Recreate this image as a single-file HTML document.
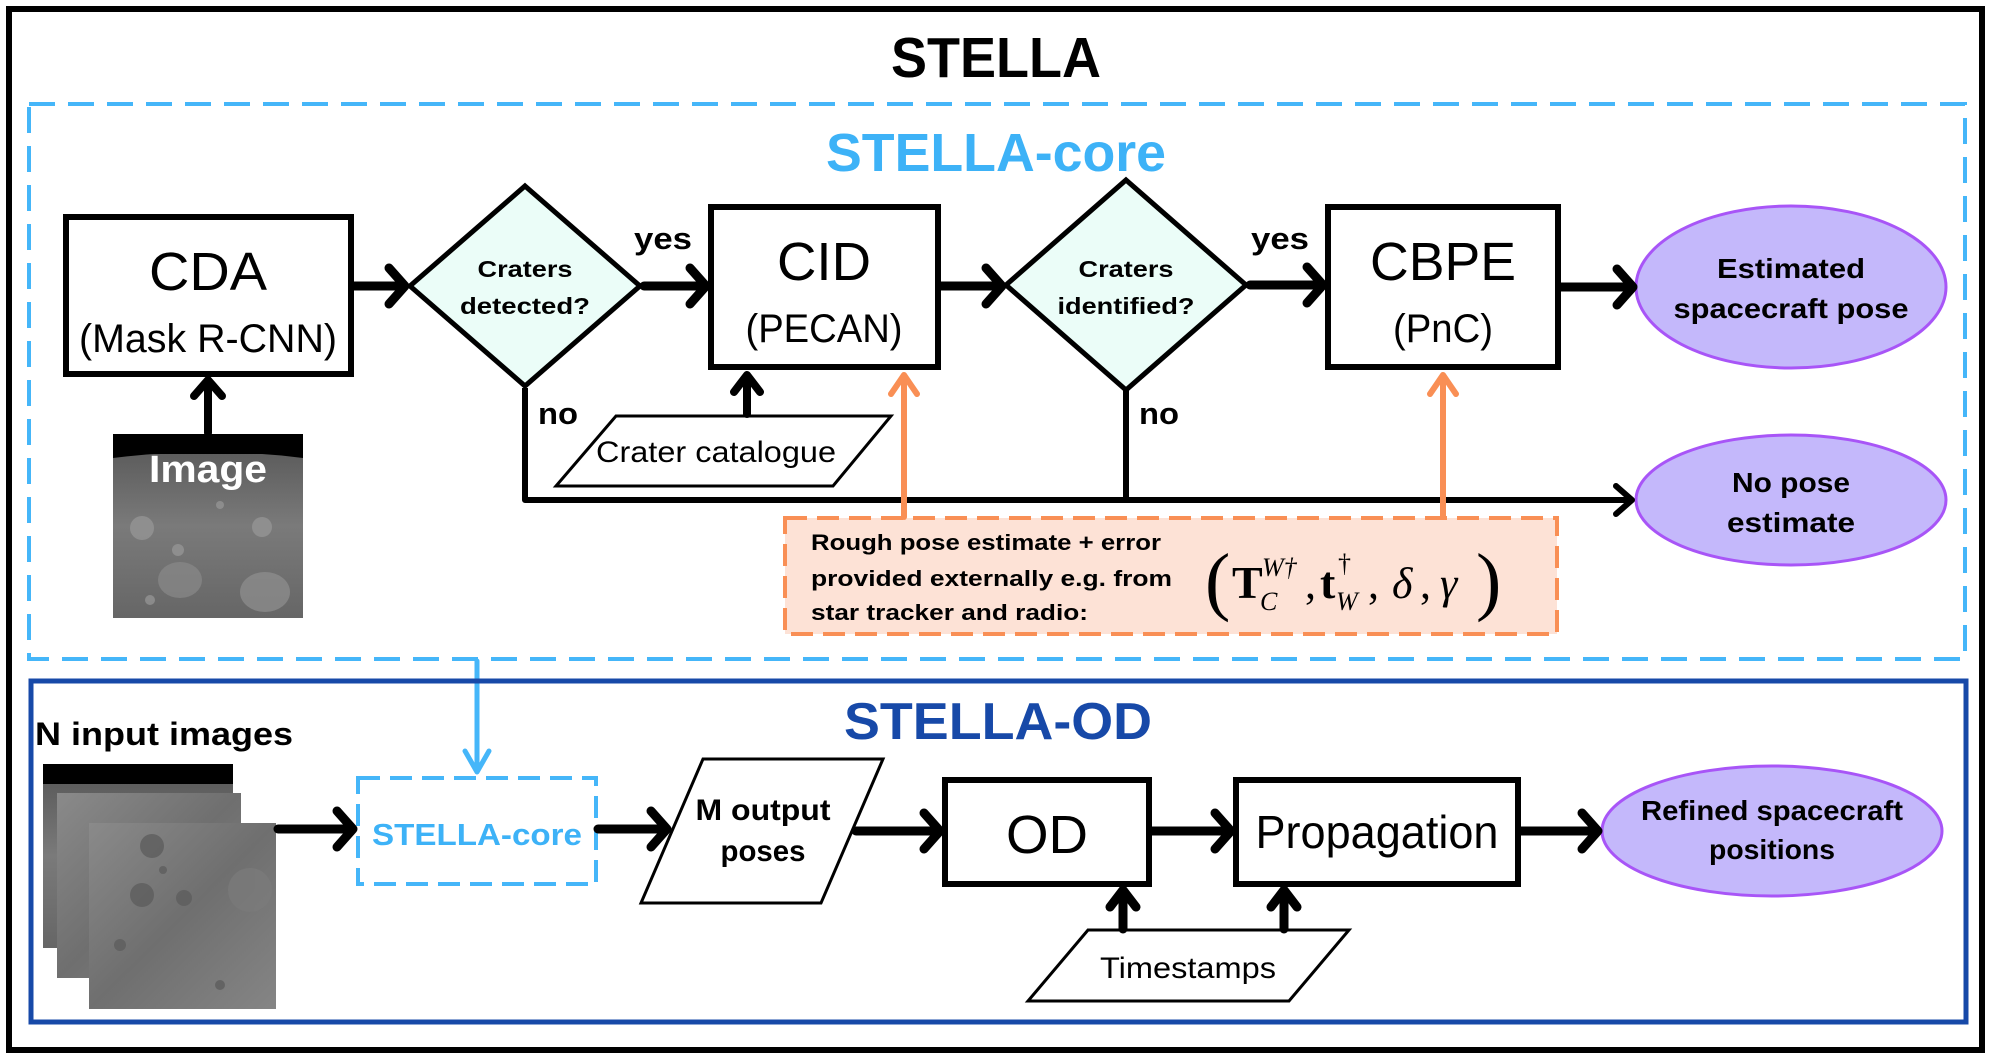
<!DOCTYPE html>
<html><head><meta charset="utf-8"><style>
html,body{margin:0;padding:0;background:#fff;}
svg{display:block;}
text{font-family:"Liberation Sans Narrow","Liberation Sans",sans-serif;}
text.m{font-family:"Liberation Serif",serif;}
.b{font-weight:bold;}
</style></head><body>
<svg width="1992" height="1060" viewBox="0 0 1992 1060" xmlns="http://www.w3.org/2000/svg">
<defs>
<linearGradient id="g1" x1="0" y1="0" x2="0" y2="1"><stop offset="0" stop-color="#555"/><stop offset="0.5" stop-color="#7a7a7a"/><stop offset="1" stop-color="#666"/></linearGradient>
<linearGradient id="g2" x1="0" y1="0" x2="1" y2="1"><stop offset="0" stop-color="#8a8a8a"/><stop offset="0.5" stop-color="#6f6f6f"/><stop offset="1" stop-color="#858585"/></linearGradient>
</defs>
<rect x="9" y="9" width="1973" height="1041" fill="#fff" stroke="#000" stroke-width="6"/>
<text x="996" y="77" class="b" font-size="57" text-anchor="middle" textLength="210" lengthAdjust="spacingAndGlyphs">STELLA</text>

<rect x="29" y="104" width="1936" height="555" fill="none" stroke="#45b6f9" stroke-width="4" stroke-dasharray="26,13"/>
<text x="996" y="171" class="b" font-size="54" fill="#3db2f7" text-anchor="middle" textLength="340" lengthAdjust="spacingAndGlyphs">STELLA-core</text>

<rect x="66" y="217" width="285" height="157" fill="#fff" stroke="#000" stroke-width="6"/>
<text x="208" y="290" font-size="54" text-anchor="middle" textLength="118" lengthAdjust="spacingAndGlyphs">CDA</text>
<text x="208" y="352" font-size="40" text-anchor="middle" textLength="258" lengthAdjust="spacingAndGlyphs">(Mask R-CNN)</text>

<polygon points="525,186 640,286 525,386 410,286" fill="#ebfdf8" stroke="#000" stroke-width="5"/>
<text x="525" y="277" class="b" font-size="23" text-anchor="middle" textLength="95" lengthAdjust="spacingAndGlyphs">Craters</text>
<text x="525" y="314" class="b" font-size="23" text-anchor="middle" textLength="130" lengthAdjust="spacingAndGlyphs">detected?</text>
<text x="663" y="249" class="b" font-size="31" text-anchor="middle" textLength="58" lengthAdjust="spacingAndGlyphs">yes</text>

<rect x="711" y="207" width="227" height="160" fill="#fff" stroke="#000" stroke-width="6"/>
<text x="824" y="280" font-size="54" text-anchor="middle" textLength="94" lengthAdjust="spacingAndGlyphs">CID</text>
<text x="824" y="342" font-size="40" text-anchor="middle" textLength="157" lengthAdjust="spacingAndGlyphs">(PECAN)</text>

<polygon points="1126,180 1246,285 1126,390 1006,285" fill="#ebfdf8" stroke="#000" stroke-width="5"/>
<text x="1126" y="277" class="b" font-size="23" text-anchor="middle" textLength="95" lengthAdjust="spacingAndGlyphs">Craters</text>
<text x="1126" y="314" class="b" font-size="23" text-anchor="middle" textLength="137" lengthAdjust="spacingAndGlyphs">identified?</text>
<text x="1280" y="249" class="b" font-size="31" text-anchor="middle" textLength="58" lengthAdjust="spacingAndGlyphs">yes</text>

<rect x="1328" y="207" width="230" height="160" fill="#fff" stroke="#000" stroke-width="6"/>
<text x="1443" y="280" font-size="54" text-anchor="middle" textLength="146" lengthAdjust="spacingAndGlyphs">CBPE</text>
<text x="1443" y="342" font-size="40" text-anchor="middle" textLength="100" lengthAdjust="spacingAndGlyphs">(PnC)</text>

<ellipse cx="1791" cy="287" rx="155" ry="81" fill="#c4b8fb" stroke="#a855f7" stroke-width="3"/>
<text x="1791" y="278" class="b" font-size="28" text-anchor="middle" textLength="148" lengthAdjust="spacingAndGlyphs">Estimated</text>
<text x="1791" y="318" class="b" font-size="28" text-anchor="middle" textLength="235" lengthAdjust="spacingAndGlyphs">spacecraft pose</text>
<ellipse cx="1791" cy="500" rx="155" ry="65" fill="#c4b8fb" stroke="#a855f7" stroke-width="3"/>
<text x="1791" y="492" class="b" font-size="28" text-anchor="middle" textLength="118" lengthAdjust="spacingAndGlyphs">No pose</text>
<text x="1791" y="532" class="b" font-size="28" text-anchor="middle" textLength="128" lengthAdjust="spacingAndGlyphs">estimate</text>

<g stroke="#000" stroke-width="9" fill="none" stroke-linecap="round" stroke-linejoin="round">
<line x1="354" y1="286" x2="402" y2="286"/><polyline points="389,268 405,286 389,304"/>
<line x1="644" y1="286" x2="703" y2="286"/><polyline points="690,268 706,286 690,304"/>
<line x1="941" y1="286" x2="999" y2="286"/><polyline points="986,268 1002,286 986,304"/>
<line x1="1250" y1="285" x2="1320" y2="285"/><polyline points="1307,267 1323,285 1307,303"/>
<line x1="1561" y1="287" x2="1630" y2="287"/><polyline points="1617,269 1633,287 1617,305"/>
</g>
<g stroke="#000" stroke-width="6" fill="none" stroke-linecap="round" stroke-linejoin="round">
<polyline points="525,388 525,500 1628,500" stroke-linecap="butt"/>
<polyline points="1616,486 1632,500 1616,514"/>
<line x1="1126" y1="390" x2="1126" y2="500"/>
</g>
<text x="538" y="424" class="b" font-size="31" textLength="40" lengthAdjust="spacingAndGlyphs">no</text>
<text x="1139" y="424" class="b" font-size="31" textLength="40" lengthAdjust="spacingAndGlyphs">no</text>

<rect x="113" y="434" width="190" height="184" fill="url(#g1)"/>
<rect x="113" y="434" width="190" height="20" fill="#000"/>
<path d="M113,458 Q208,446 303,458 L303,454 L113,454Z" fill="#000"/>
<g fill="#999" opacity="0.7"><circle cx="142" cy="528" r="12"/><circle cx="262" cy="527" r="10"/><circle cx="178" cy="550" r="6"/><ellipse cx="180" cy="580" rx="22" ry="18" fill="#8a8a8a"/><ellipse cx="265" cy="592" rx="25" ry="20" fill="#909090"/><circle cx="220" cy="505" r="4"/><circle cx="150" cy="600" r="5"/></g>
<text x="208" y="482" class="b" font-size="38" fill="#fff" text-anchor="middle" textLength="118" lengthAdjust="spacingAndGlyphs">Image</text>
<g stroke="#000" stroke-width="8" fill="none" stroke-linecap="round" stroke-linejoin="round">
<line x1="208" y1="433" x2="208" y2="382"/><polyline points="194,396 208,380 222,396"/>
</g>

<polygon points="616,416 891,416 833,486 556,486" fill="#fff" stroke="#000" stroke-width="3"/>
<text x="716" y="462" font-size="30" text-anchor="middle" textLength="240" lengthAdjust="spacingAndGlyphs">Crater catalogue</text>
<g stroke="#000" stroke-width="8" fill="none" stroke-linecap="round" stroke-linejoin="round">
<line x1="747" y1="414" x2="747" y2="378"/><polyline points="734,392 747,375 760,392"/>
</g>

<rect x="785" y="518" width="772" height="116" fill="#fde2d6" stroke="#f98f55" stroke-width="4" stroke-dasharray="22,10"/>
<g stroke="#f98f55" stroke-width="6" fill="none" stroke-linecap="round" stroke-linejoin="round">
<line x1="904" y1="517" x2="904" y2="378"/><polyline points="891,394 904,375 917,394"/>
<line x1="1443" y1="517" x2="1443" y2="378"/><polyline points="1430,394 1443,375 1456,394"/>
</g>
<text x="811" y="550" class="b" font-size="22" textLength="350" lengthAdjust="spacingAndGlyphs">Rough pose estimate + error</text>
<text x="811" y="586" class="b" font-size="22" textLength="361" lengthAdjust="spacingAndGlyphs">provided externally e.g. from</text>
<text x="811" y="620" class="b" font-size="22" textLength="277" lengthAdjust="spacingAndGlyphs">star tracker and radio:</text>

<text class="m" x="1205" y="606" font-size="76">(</text>
<text class="m" x="1232" y="598" font-size="46" font-weight="bold">T</text>
<text class="m" x="1262" y="576" font-size="26" font-style="italic">W†</text>
<text class="m" x="1260" y="610" font-size="26" font-style="italic">C</text>
<text class="m" x="1305" y="598" font-size="44">,</text>
<text class="m" x="1320" y="598" font-size="46" font-weight="bold">t</text>
<text class="m" x="1338" y="572" font-size="26">†</text>
<text class="m" x="1336" y="610" font-size="26" font-style="italic">W</text>
<text class="m" x="1368" y="598" font-size="44">,</text>
<text class="m" x="1392" y="598" font-size="44" font-style="italic">δ</text>
<text class="m" x="1420" y="598" font-size="44">,</text>
<text class="m" x="1440" y="598" font-size="44" font-style="italic">γ</text>
<text class="m" x="1476" y="606" font-size="76">)</text>

<g stroke="#45b6f9" stroke-width="5" fill="none" stroke-linecap="round" stroke-linejoin="round">
<line x1="477" y1="661" x2="477" y2="770"/><polyline points="465,751 477,772 489,751"/>
</g>

<rect x="31" y="681" width="1935" height="341" fill="none" stroke="#1749a8" stroke-width="5"/>
<text x="998" y="739" class="b" font-size="52" fill="#1749a8" text-anchor="middle" textLength="308" lengthAdjust="spacingAndGlyphs">STELLA-OD</text>
<text x="35" y="745" class="b" font-size="32" textLength="258" lengthAdjust="spacingAndGlyphs">N input images</text>

<rect x="43" y="764" width="190" height="184" fill="url(#g1)"/>
<rect x="43" y="764" width="190" height="20" fill="#000"/>
<rect x="57" y="793" width="184" height="185" fill="url(#g2)"/>
<rect x="89" y="823" width="187" height="186" fill="url(#g2)"/>
<g fill="#5e5e5e" opacity="0.8"><circle cx="152" cy="846" r="12"/><circle cx="142" cy="895" r="12"/><circle cx="184" cy="898" r="8"/><circle cx="250" cy="890" r="22" fill="#7a7a7a"/><circle cx="120" cy="945" r="6"/><circle cx="220" cy="985" r="5"/><circle cx="163" cy="870" r="4"/></g>

<rect x="358" y="778" width="238" height="106" fill="#fff" stroke="#45b6f9" stroke-width="4" stroke-dasharray="22,10"/>
<text x="477" y="845" class="b" font-size="31" fill="#3db2f7" text-anchor="middle" textLength="210" lengthAdjust="spacingAndGlyphs">STELLA-core</text>

<polygon points="703,759 883,759 821,903 641,903" fill="#fff" stroke="#000" stroke-width="3"/>
<text x="763" y="820" class="b" font-size="30" text-anchor="middle" textLength="135" lengthAdjust="spacingAndGlyphs">M output</text>
<text x="763" y="861" class="b" font-size="30" text-anchor="middle" textLength="85" lengthAdjust="spacingAndGlyphs">poses</text>

<rect x="945" y="780" width="204" height="104" fill="#fff" stroke="#000" stroke-width="6"/>
<text x="1047" y="853" font-size="54" text-anchor="middle" textLength="82" lengthAdjust="spacingAndGlyphs">OD</text>
<rect x="1236" y="780" width="282" height="104" fill="#fff" stroke="#000" stroke-width="6"/>
<text x="1377" y="848" font-size="46" text-anchor="middle" textLength="243" lengthAdjust="spacingAndGlyphs">Propagation</text>

<ellipse cx="1772" cy="831" rx="170" ry="65" fill="#c4b8fb" stroke="#a855f7" stroke-width="3"/>
<text x="1772" y="820" class="b" font-size="28" text-anchor="middle" textLength="262" lengthAdjust="spacingAndGlyphs">Refined spacecraft</text>
<text x="1772" y="859" class="b" font-size="28" text-anchor="middle" textLength="126" lengthAdjust="spacingAndGlyphs">positions</text>

<polygon points="1088,930 1349,930 1289,1001 1028,1001" fill="#fff" stroke="#000" stroke-width="3"/>
<text x="1188" y="978" font-size="30" text-anchor="middle" textLength="176" lengthAdjust="spacingAndGlyphs">Timestamps</text>

<g stroke="#000" stroke-width="9" fill="none" stroke-linecap="round" stroke-linejoin="round">
<line x1="278" y1="829" x2="350" y2="829"/><polyline points="337,811 353,829 337,847"/>
<line x1="598" y1="829" x2="664" y2="829"/><polyline points="651,811 667,829 651,847"/>
<line x1="856" y1="831" x2="937" y2="831"/><polyline points="924,813 940,831 924,849"/>
<line x1="1151" y1="831" x2="1228" y2="831"/><polyline points="1215,813 1231,831 1215,849"/>
<line x1="1520" y1="831" x2="1595" y2="831"/><polyline points="1582,813 1598,831 1582,849"/>
<line x1="1123" y1="929" x2="1123" y2="893"/><polyline points="1110,907 1123,890 1136,907"/>
<line x1="1284" y1="929" x2="1284" y2="893"/><polyline points="1271,907 1284,890 1297,907"/>
</g>
</svg>
</body></html>
